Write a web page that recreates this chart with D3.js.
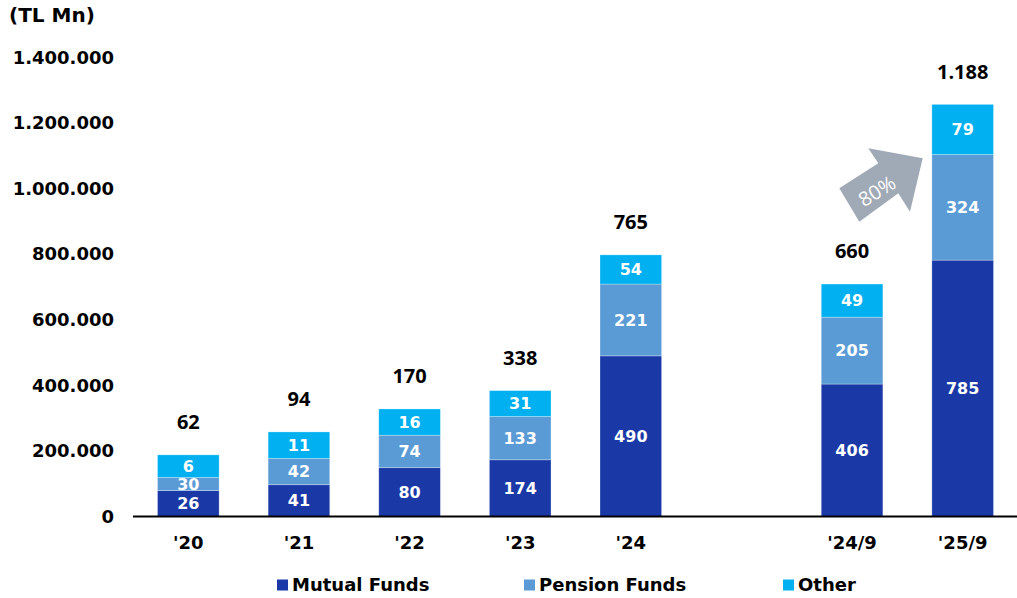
<!DOCTYPE html>
<html>
<head>
<meta charset="utf-8">
<script src="https://cdn.jsdelivr.net/npm/d3@7"></script>
<style>
  body { margin: 0; background: #fff; }
  svg { display: block; }
  text { font-family: "DejaVu Sans", Verdana, sans-serif; font-weight: bold; }
</style>
</head>
<body>
<svg id="chart" width="1017" height="598"></svg>
<script>
// categories (the empty slot between '24 and '24/9 is a gap)
var categories = ["'20", "'21", "'22", "'23", "'24", "'24/9", "'25/9"];
var slots = ["'20", "'21", "'22", "'23", "'24", "gap", "'24/9", "'25/9"];
var series = ["Mutual Funds", "Pension Funds", "Other"];

// bar segment heights as drawn, in axis units (TL Mn)
var mutualBar = [79000, 97000, 149000, 173000, 490000, 404000, 782000];
var pensionBar = [40000, 80000, 99000, 132000, 219000, 204000, 322000];
var otherBar = [69000, 81000, 80000, 79000, 89000, 101000, 153000];

// labels printed on the segments and above the bars
var mutualLabels = [26, 41, 80, 174, 490, 406, 785];
var pensionLabels = [30, 42, 74, 133, 221, 205, 324];
var otherLabels = [6, 11, 16, 31, 54, 49, 79];
var totalLabels = ["62", "94", "170", "338", "765", "660", "1.188"];

var yTicks = [0, 200000, 400000, 600000, 800000, 1000000, 1200000, 1400000];
var growthLabel = "80%";

var colors = ["#1a39a6", "#5b9bd5", "#00b0f0"];

var svg = d3.select('#chart');
var x = d3.scaleBand().domain(slots).range([133, 1018]).paddingInner(0.443).paddingOuter(0.2215);
var y = d3.scaleLinear().domain([0, 1400000]).range([516.5, 57.5]);
var tr = d3.formatLocale({decimal: ",", thousands: ".", grouping: [3], currency: ["", ""]});
var fmt = tr.format(",");

// y axis labels only
var yAxis = svg.append('g')
    .attr('transform', 'translate(116,0)')
    .call(d3.axisLeft(y).tickValues(yTicks).tickSize(0).tickPadding(2).tickFormat(fmt));
yAxis.select('.domain').remove();
yAxis.selectAll('text')
    .attr('font-size', 18)
    .attr('font-family', '"DejaVu Sans", Verdana, sans-serif')
    .attr('font-weight', 'bold')
    .attr('fill', '#000');

svg.append('text')
    .attr('x', 9).attr('y', 22)
    .attr('font-size', 20)
    .text('(TL Mn)');

// stacked bars
var rows = categories.map(function (c, i) {
    return {cat: c, mutual: mutualBar[i], pension: pensionBar[i], other: otherBar[i]};
});
var stack = d3.stack().keys(['mutual', 'pension', 'other'])(rows);
var labelSets = [mutualLabels, pensionLabels, otherLabels];

stack.forEach(function (layer, k) {
    var g = svg.append('g');
    g.selectAll('rect').data(layer).enter().append('rect')
        .attr('x', function (d) { return x(d.data.cat); })
        .attr('width', x.bandwidth())
        .attr('y', function (d) { return y(d[1]); })
        .attr('height', function (d) { return y(d[0]) - y(d[1]); })
        .attr('fill', colors[k])
        .attr('stroke', 'rgba(255,255,255,0.35)')
        .attr('stroke-width', 0.8);
    g.selectAll('text').data(layer).enter().append('text')
        .attr('x', function (d) { return x(d.data.cat) + x.bandwidth() / 2; })
        .attr('y', function (d) { return (y(d[0]) + y(d[1])) / 2; })
        .attr('dy', '0.36em')
        .attr('text-anchor', 'middle')
        .attr('font-size', 16)
        .attr('fill', '#fff')
        .text(function (d, i) { return labelSets[k][i]; });
});

// totals above the bars
var topLayer = stack[stack.length - 1];
svg.append('g').selectAll('text').data(topLayer).enter().append('text')
    .attr('x', function (d) { return x(d.data.cat) + x.bandwidth() / 2; })
    .attr('y', function (d) { return y(d[1]) - 33; })
    .attr('dy', '0.36em')
    .attr('text-anchor', 'middle')
    .style('font-family', '"Open Sans", sans-serif')
    .style('font-weight', '700')
    .attr('font-size', 20)
    .attr('fill', '#000')
    .text(function (d, i) { return totalLabels[i]; });

// baseline
svg.append('line')
    .attr('x1', x.range()[0]).attr('x2', x.range()[1])
    .attr('y1', y(0)).attr('y2', y(0))
    .attr('stroke', '#000').attr('stroke-width', 2.2);

// x labels
svg.append('g').selectAll('text').data(categories).enter().append('text')
    .attr('x', function (d) { return x(d) + x.bandwidth() / 2; })
    .attr('y', 543)
    .attr('dy', '0.36em')
    .attr('text-anchor', 'middle')
    .attr('font-size', 18)
    .text(function (d) { return d; });

// growth arrow
svg.append('polygon')
    .attr('points', '859.3,221.7 839.3,188.3 878.3,163.3 868.3,148.3 922.7,158.3 910,211.7 898.3,193.3')
    .attr('fill', '#a0a9b6');
svg.append('text')
    .attr('transform', 'translate(877,191) rotate(-32)')
    .attr('text-anchor', 'middle')
    .attr('dy', '0.36em')
    .style('font-family', '"Open Sans", sans-serif')
    .style('font-weight', 'normal')
    .attr('font-size', 20)
    .attr('fill', '#fff')
    .text(growthLabel);

// legend
var legendX = [277, 524, 783];
var legend = svg.append('g').selectAll('g').data(series).enter().append('g')
    .attr('transform', function (d, i) { return 'translate(' + legendX[i] + ',585)'; });
legend.append('rect')
    .attr('x', 0).attr('y', -5.5).attr('width', 11).attr('height', 11)
    .attr('fill', function (d, i) { return colors[i]; });
legend.append('text')
    .attr('x', 15).attr('dy', '0.36em')
    .attr('font-size', 18)
    .text(function (d) { return d; });
</script>
</body>
</html>
